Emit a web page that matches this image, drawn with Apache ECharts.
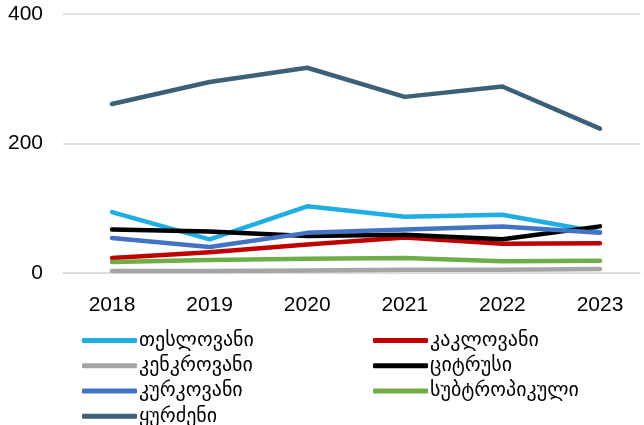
<!DOCTYPE html>
<html><head><meta charset="utf-8">
<script src="https://cdn.jsdelivr.net/npm/echarts@6/dist/echarts.min.js"></script>
<style>html,body{margin:0;padding:0;background:#fff}#c{width:644px;height:425px}</style>
</head><body><div id="c"></div>
<script>
const years = ['2018','2019','2020','2021','2022','2023'];
const yTicks = [0, 200, 400];
const names = ['თესლოვანი','კაკლოვანი','კენკროვანი','ციტრუსი','კურკოვანი','სუბტროპიკული','ყურძენი'];
const tesl = [94, 52, 103, 87, 90, 63];
const kakl = [23, 32, 44, 55, 45, 46];
const kenk = [3, 3, 4, 5, 5, 6];
const citr = [67, 64, 57, 59, 52, 72];
const kurk = [54, 40, 62, 67, 72, 62];
const subt = [17, 20, 22, 23, 18, 19];
const yurd = [261, 295, 317, 272, 288, 223];
const colors = ['#1faee3','#c00000','#a5a5a5','#000000','#4472c4','#70ad47','#3d6079'];
const values = [tesl, kakl, kenk, citr, kurk, subt, yurd];

const chart = echarts.init(document.getElementById('c'));
const legendCommon = {
  orient: 'vertical', icon: 'roundRect', itemWidth: 55, itemHeight: 5, itemGap: 0.5,
  height: 120, width: 260,
  textStyle: {fontFamily: 'DejaVu Sans', fontSize: 20, color: '#000', lineHeight: 24.8, padding:[0,0,0,-3]},
  padding: 0
};
const yMin = yTicks[0], yMax = yTicks[yTicks.length-1];
chart.setOption({
  animation: false,
  color: colors,
  grid: [
    {left: 63, right: 4, top: 14, height: 259, containLabel: false},
    {left: 112, width: 488, top: 14, height: 259, containLabel: false}
  ],
  legend: [
    Object.assign({left: 82, top: 328, data: [names[0], names[2], names[4], names[6]]}, legendCommon),
    Object.assign({left: 373, top: 328, data: [names[1], names[3], names[5]]}, legendCommon)
  ],
  xAxis: [
    {gridIndex: 0, type: 'value', show: true, min: 0, max: 1,
     axisLine: {show: true, lineStyle: {color: '#d9d9d9', width: 1.5}},
     axisTick: {show: false}, axisLabel: {show: false}, splitLine: {show: false}},
    {gridIndex: 1, type: 'category', data: years, boundaryGap: false,
     axisLine: {show: false}, axisTick: {show: false}, splitLine: {show: false},
     axisLabel: {fontFamily: 'Liberation Sans', fontSize: 21, color: '#000', margin: 22}}
  ],
  yAxis: [
    {gridIndex: 0, type: 'value', min: yMin, max: yMax, interval: 200,
     axisLine: {show: false}, axisTick: {show: false},
     splitLine: {lineStyle: {color: '#d9d9d9', width: 1.5}},
     axisLabel: {fontFamily: 'Liberation Sans', fontSize: 21, color: '#000', margin: 20}},
    {gridIndex: 1, type: 'value', min: yMin, max: yMax, interval: 200, show: false,
     splitLine: {show: false}}
  ],
  series: names.map((n, i) => ({
    name: n, type: 'line', data: values[i], symbol: 'none', z: i === 2 ? 1 : 2,
    xAxisIndex: 1, yAxisIndex: 1,
    lineStyle: {width: 4.5, color: colors[i], cap: 'round', join: 'round'},
    itemStyle: {color: colors[i]}
  }))
});
</script></body></html>
